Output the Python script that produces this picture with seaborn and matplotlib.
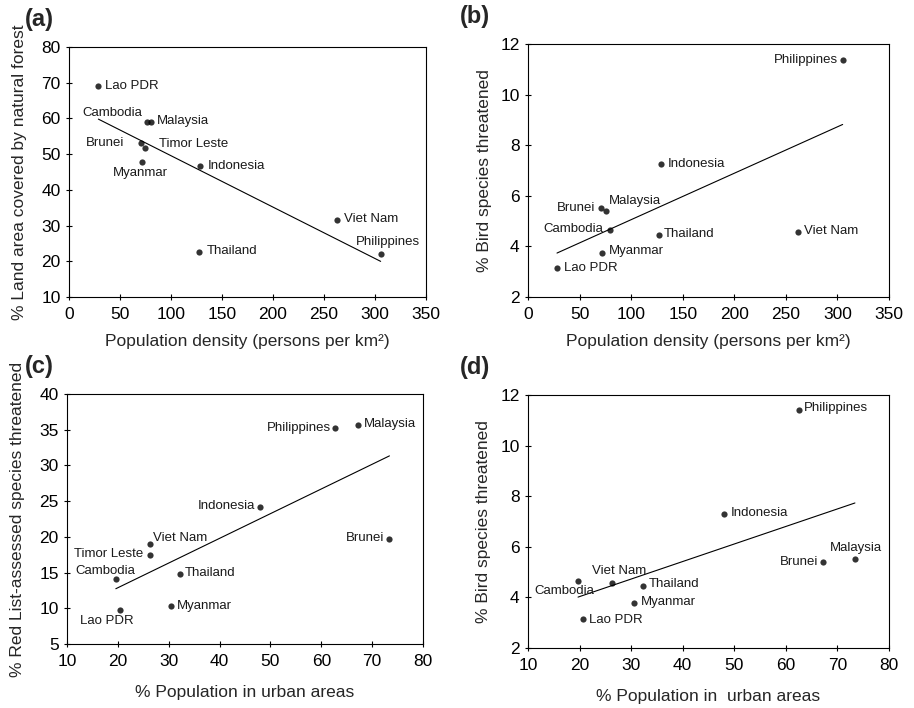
import matplotlib
matplotlib.use("Agg")
import matplotlib.pyplot as plt
import seaborn as sns

# (a) population density vs natural forest cover
countries_a = ["Lao PDR", "Cambodia", "Malaysia", "Brunei", "Timor Leste",
               "Myanmar", "Indonesia", "Viet Nam", "Philippines", "Thailand"]
density_a = [28.8, 76.5, 80.5, 70.9, 74.8, 71.8, 128.8, 262.4, 305.6, 127.5]
forest_a = [69.1, 59.0, 59.0, 53.1, 51.8, 47.9, 46.8, 31.6, 22.1, 22.5]

# (b) population density vs threatened birds
countries_b = ["Philippines", "Indonesia", "Brunei", "Malaysia", "Cambodia",
               "Thailand", "Viet Nam", "Myanmar", "Lao PDR"]
density_b = [305.1, 128.5, 70.7, 75.6, 79.1, 126.9, 261.5, 71.7, 28.1]
birds_b = [11.37, 7.25, 5.51, 5.38, 4.64, 4.44, 4.56, 3.74, 3.15]

# (c) urban population vs threatened red list species
countries_c = ["Philippines", "Malaysia", "Indonesia", "Brunei", "Viet Nam",
               "Timor Leste", "Cambodia", "Thailand", "Myanmar", "Lao PDR"]
urban_c = [62.6, 67.2, 48.0, 73.4, 26.25, 26.4, 19.6, 32.15, 30.45, 20.5]
redlist_c = [35.24, 35.7, 24.13, 19.7, 19.0, 17.5, 14.06, 14.75, 10.28, 9.81]

# (d) urban population vs threatened birds
countries_d = ["Philippines", "Indonesia", "Malaysia", "Brunei", "Viet Nam",
               "Cambodia", "Thailand", "Myanmar", "Lao PDR"]
urban_d = [62.6, 48.0, 73.4, 67.3, 26.3, 19.7, 32.3, 30.6, 20.6]
birds_d = [11.39, 7.28, 5.52, 5.40, 4.57, 4.65, 4.46, 3.78, 3.16]

# label placement: (dx px, dy px, ha)
offs_a = {"Lao PDR": (7, 0, "left"), "Cambodia": (-5, 9, "right"),
          "Malaysia": (6, 1, "left"), "Brunei": (-17, 0, "right"),
          "Timor Leste": (14, 4, "left"), "Myanmar": (-2, -11, "center"),
          "Indonesia": (7, 0, "left"), "Viet Nam": (7, 1, "left"),
          "Philippines": (7, 12, "center"), "Thailand": (8, 1, "left")}
offs_b = {"Philippines": (-5, 0, "right"), "Indonesia": (7, 0, "left"),
          "Brunei": (-6, 0, "right"), "Malaysia": (3, 10, "left"),
          "Cambodia": (-6, 1, "right"), "Thailand": (5, 1, "left"),
          "Viet Nam": (6, 1, "left"), "Myanmar": (7, 2, "left"),
          "Lao PDR": (7, 0, "left")}
offs_c = {"Philippines": (-4, 0, "right"), "Malaysia": (6, 1, "left"),
          "Indonesia": (-5, 1, "right"), "Brunei": (-5, 1, "right"),
          "Viet Nam": (3, 6, "left"), "Timor Leste": (-7, 1, "right"),
          "Cambodia": (-11, 8, "center"), "Thailand": (5, 1, "left"),
          "Myanmar": (6, 0, "left"), "Lao PDR": (-14, -11, "center")}
offs_d = {"Philippines": (5, 2, "left"), "Indonesia": (7, 1, "left"),
          "Malaysia": (1, 11, "center"), "Brunei": (-5, 0, "right"),
          "Viet Nam": (7, 12, "center"), "Cambodia": (-14, -10, "center"),
          "Thailand": (6, 2, "left"), "Myanmar": (7, 1, "left"),
          "Lao PDR": (6, -1, "left")}

sns.set_theme(style="ticks")
plt.rcParams["font.family"] = ["Liberation Sans", "DejaVu Sans"]
plt.rcParams.update({
    "axes.edgecolor": "black",
    "axes.linewidth": 0.8,
    "xtick.color": "black",
    "ytick.color": "black",
    "xtick.direction": "inout",
    "ytick.direction": "inout",
    "xtick.major.size": 4,
    "ytick.major.size": 4,
    "xtick.major.width": 0.8,
    "ytick.major.width": 0.8,
    "xtick.major.pad": 5,
    "ytick.major.pad": 4,
    "xtick.labelsize": 12.5,
    "ytick.labelsize": 12.5,
    "axes.labelsize": 12.5,
})

fig = plt.figure(figsize=(9.14, 7.08), dpi=100)

panels = [
    ("(a)", [0.0755, 0.5805, 0.3905, 0.3531], density_a, forest_a, countries_a, offs_a,
     (0, 350), range(0, 351, 50), (10, 80), range(10, 81, 10),
     "Population density (persons per km²)", "% Land area covered by natural forest", 9, 10),
    ("(b)", [0.5777, 0.5805, 0.3949, 0.3574], density_b, birds_b, countries_b, offs_b,
     (0, 350), range(0, 351, 50), (2, 12), range(2, 13, 2),
     "Population density (persons per km²)", "% Bird species threatened", 9, 6),
    ("(c)", [0.0733, 0.0904, 0.3895, 0.3531], urban_c, redlist_c, countries_c, offs_c,
     (10, 80), range(10, 81, 10), (5, 40), range(5, 41, 5),
     "% Population in urban areas", "% Red List-assessed species threatened", 12, 10),
    ("(d)", [0.5777, 0.0847, 0.3949, 0.3574], urban_d, birds_d, countries_d, offs_d,
     (10, 80), range(10, 81, 10), (2, 12), range(2, 13, 2),
     "% Population in  urban areas", "% Bird species threatened", 12, 7),
]

for tag, rect, xs, ys, names, offs, xlim, xt, ylim, yt, xlab, ylab, xpad, ypad in panels:
    ax = fig.add_axes(rect)
    sns.regplot(x=xs, y=ys, ax=ax, ci=None, color="black",
                scatter_kws={"s": 20, "linewidths": 0},
                line_kws={"lw": 0.8})
    for name, x, y in zip(names, xs, ys):
        dx, dy, ha = offs[name]
        ax.annotate(name, (x, y), xytext=(dx, dy), textcoords="offset pixels",
                    ha=ha, va="center", fontsize=9.5, color="#1a1a1a")
    ax.set_xlim(*xlim)
    ax.set_ylim(*ylim)
    ax.set_xticks(list(xt))
    ax.set_yticks(list(yt))
    ax.set_xlabel(xlab, labelpad=xpad)
    ax.set_ylabel(ylab, labelpad=ypad)
    for s in ax.spines.values():
        s.set_visible(True)
    x0 = 0.027 if rect[0] < 0.5 else 0.503
    fig.text(x0, rect[1] + rect[3] + 0.022, tag, fontsize=17, fontweight="bold",
             ha="left", va="bottom")

fig.savefig("out.png", dpi=100)
